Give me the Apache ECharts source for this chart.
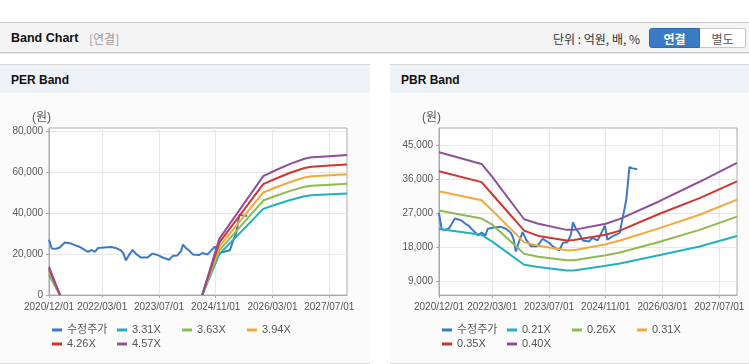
<!DOCTYPE html>
<html><head><meta charset="utf-8">
<script src="https://cdn.jsdelivr.net/npm/echarts@6/dist/echarts.min.js"></script>
<style>
html,body{margin:0;padding:0;}
body{width:749px;height:364px;background:#fff;overflow:hidden;position:relative;font-family:"Liberation Sans","Noto Sans CJK KR",sans-serif;}
.topbar{position:absolute;left:0;top:22px;width:749px;height:29px;background:#f4f4f4;border-top:1px solid #c6c6c6;border-bottom:1px solid #c6c6c6;box-shadow:0 1px 1px rgba(0,0,0,0.08);}
.t1{position:absolute;left:11px;top:30px;font-size:12.5px;font-weight:bold;color:#111;line-height:17px;}
.t2{position:absolute;left:89px;top:31px;font-size:12px;color:#999;line-height:16px;font-family:"Noto Sans CJK KR",sans-serif;}
.unit{position:absolute;left:553px;top:31px;font-size:12px;color:#333;line-height:16px;font-family:"Noto Sans CJK KR",sans-serif;}
.btn{position:absolute;top:28px;height:20px;font-size:12px;line-height:20px;text-align:center;font-family:"Noto Sans CJK KR",sans-serif;box-sizing:border-box;}
.b1{left:649px;width:51px;background:#3b7bc6;color:#fff;font-weight:bold;border:1px solid #2f69ad;border-radius:3px 0 0 3px;}
.b2{left:700px;width:46px;background:#fff;color:#555;border:1px solid #c6c6c6;border-left:none;border-radius:0 3px 3px 0;}
.panel{position:absolute;top:64px;height:298px;background:#fbfbfc;border-top:1px solid #d6d6d6;border-bottom:2px solid #dcdcdc;}
.ph{position:absolute;left:0;top:0;right:0;height:28px;background:#eef1f6;}
.pt{position:absolute;left:11px;top:7px;font-size:12px;font-weight:bold;color:#111;line-height:16px;}
#chart{position:absolute;left:0;top:0;width:749px;height:364px;}
</style></head>
<body>
<div class="topbar"></div>
<div class="t1">Band Chart</div>
<div class="t2">[연결]</div>
<div class="unit">단위 : 억원, 배, %</div>
<div class="btn b1">연결</div>
<div class="btn b2">별도</div>
<div class="panel" style="left:0;width:370px;"><div class="ph"><div class="pt">PER Band</div></div></div>
<div class="panel" style="left:390px;width:359px;"><div class="ph"><div class="pt">PBR Band</div></div></div>
<div id="chart"></div>
<script>
// ---- data ----
const xStart = '2020-12-01';
const xEnd = '2027-12-01';
const xTickDates = ['2020-12-01','2022-03-01','2023-07-01','2024-11-01','2026-03-01','2027-07-01'];
const perTicks = [0, 20000, 40000, 60000, 80000];
const pbrTicks = [9000, 18000, 27000, 36000, 45000];

const priceDates = ['2020-12-01','2020-12-25','2021-02-01','2021-03-01','2021-04-15','2021-06-10','2021-07-15','2021-08-12','2021-09-15','2021-11-01','2021-12-01','2022-01-01','2022-01-25','2022-03-18','2022-05-15','2022-06-28','2022-08-10','2022-09-01','2022-09-21','2022-10-15','2022-11-18','2022-12-15','2023-01-28','2023-03-25','2023-05-06','2023-06-01','2023-07-01','2023-08-01','2023-09-27','2023-11-01','2023-12-07','2024-01-07','2024-01-25','2024-02-18','2024-03-15','2024-04-18','2024-06-10','2024-07-07','2024-08-22','2024-09-18','2024-10-25','2024-11-15','2024-12-28','2025-02-28','2025-03-22','2025-04-25','2025-05-22','2025-06-10','2025-07-28'];
const priceValues = [27000,22700,22600,23200,25600,25100,24200,23700,22600,21100,21900,21100,22900,23200,23400,22900,21800,20200,16900,19200,22000,20200,18300,18300,20200,19800,19200,18300,17200,19200,19300,21400,24600,22900,21800,19800,19500,20500,19800,21400,23700,20000,20900,21800,25300,30600,39200,38900,38600];

const perDates = ['2020-12-01','2021-03-04','2022-06-01','2024-07-07','2024-12-01','2025-12-13','2026-04-01','2026-08-01','2026-12-01','2027-02-01','2027-06-01','2027-12-01'];
const per331 = [9930, 0, null, 0, 19860, 42040, 44190, 46340, 48160, 48660, 48990, 49480];
const per363 = [10890, 0, null, 0, 21780, 46100, 48460, 50820, 52820, 53360, 53720, 54270];
const per394 = [11820, 0, null, 0, 23640, 50040, 52600, 55160, 57330, 57920, 58310, 58900];
const per426 = [12780, 0, null, 0, 25560, 54100, 56870, 59640, 61980, 62620, 63050, 63690];
const per457 = [13710, 0, null, 0, 27420, 58040, 61010, 63980, 66490, 67180, 67640, 68320];

const pbrDates = ['2020-12-01','2021-12-01','2022-03-01','2022-12-01','2023-04-01','2023-12-01','2024-02-01','2024-11-01','2025-03-01','2026-02-01','2027-01-15','2027-12-01'];
const pbr021 = [22800, 21300, 19500, 13400, 12800, 11900, 11900, 13100, 13700, 15900, 18200, 21000];
const pbr026 = [27700, 25600, 24000, 16300, 15500, 14600, 14600, 15900, 16600, 19400, 22600, 26100];
const pbr031 = [32800, 30400, 27700, 19300, 18400, 17200, 17200, 18800, 19800, 23000, 26600, 30600];
const pbr035 = [38100, 35200, 32000, 22400, 21000, 19800, 19900, 21300, 22400, 26800, 31000, 35400];
const pbr040 = [43100, 40000, 36600, 25400, 24200, 22600, 22600, 24200, 25500, 30100, 35300, 40300];

const perNames = ['3.31X','3.63X','3.94X','4.26X','4.57X'];
const pbrNames = ['0.21X','0.26X','0.31X','0.35X','0.40X'];
const bandColors = ['#1fb1c3','#8dbb4c','#f4a83a','#d0362f','#8e509d'];
const priceColor = '#3a79c5';
const priceName = '수정주가';

// ---- build ----
const FONT = '"Liberation Sans","Noto Sans CJK KR",sans-serif';
// date string -> months since xStart (fractional), used as the x value on a linear axis
function toMonth(s){
  const p = s.split('-').map(Number), b = xStart.split('-').map(Number);
  const dim = new Date(p[0], p[1], 0).getDate();
  return (p[0]-b[0])*12 + (p[1]-b[1]) + (p[2]-1)/dim;
}
const tickMonths = xTickDates.map(toMonth);
function fmtTick(v){
  for (let i=0;i<tickMonths.length;i++) if (Math.abs(tickMonths[i]-v)<1e-6) return xTickDates[i].replace(/-/g,'/');
  return '';
}
function zip(d, v){ return d.map((x,i)=>[toMonth(x), v[i]===null ? '-' : v[i]]); }
function fmtNum(v){ return String(v).replace(/\B(?=(\d{3})+(?!\d))/g, ','); }

function xAxis(g){
  return {type:'value', gridIndex:g, min:toMonth(xStart), max:toMonth(xEnd),
    axisLine:{show:true, onZero:false, lineStyle:{color:'#aaa'}},
    axisTick:{show:true, customValues:tickMonths, length:3, lineStyle:{color:'#aaa'}},
    axisLabel:{customValues:tickMonths, formatter:fmtTick, color:'#555', fontSize:10, fontFamily:FONT, margin:7,
      hideOverlap:false, showMinLabel:true, showMaxLabel:true},
    splitLine:{show:true, lineStyle:{color:'#e7e7e7'}}};
}
function yAxis(g, min, max, ticks){
  return {type:'value', gridIndex:g, min:min, max:max,
    axisLine:{show:true, onZero:false, lineStyle:{color:'#aaa'}},
    axisTick:{show:true, customValues:ticks, length:3, lineStyle:{color:'#aaa'}},
    axisLabel:{customValues:ticks, formatter:fmtNum, color:'#555', fontSize:10, fontFamily:FONT, margin:6,
      hideOverlap:false, showMinLabel:true, showMaxLabel:true},
    splitLine:{show:true, lineStyle:{color:'#e7e7e7'}}};
}
function line(name, data, color, g){
  return {type:'line', name:name, xAxisIndex:g, yAxisIndex:g, data:data, symbol:'none',
    lineStyle:{width:2, color:color}, itemStyle:{color:color}, animation:false, silent:true};
}
function legend(left, names){
  return {left:left, top:323, width:270, icon:'rect', itemWidth:10, itemHeight:3, itemGap:0, padding:0,
    data:names,
    textStyle:{width:50, fontSize:11, lineHeight:14, color:'#555', fontFamily:FONT}};
}

const series = [];
series.push(line(priceName, zip(priceDates, priceValues), priceColor, 0));
[per331, per363, per394, per426, per457].forEach((v,i)=>series.push(line(perNames[i], zip(perDates, v), bandColors[i], 0)));
series.push(line(priceName, zip(priceDates, priceValues), priceColor, 1));
[pbr021, pbr026, pbr031, pbr035, pbr040].forEach((v,i)=>series.push(line(pbrNames[i], zip(pbrDates, v), bandColors[i], 1)));

const chart = echarts.init(document.getElementById('chart'), null, {renderer:'canvas'});
chart.setOption({
  backgroundColor:'transparent',
  animation:false,
  grid:[
    {left:49, top:128, width:298, height:167, show:true, borderColor:'#aaa', borderWidth:1, backgroundColor:'#fff', containLabel:false},
    {left:439, top:128, width:298, height:167, show:true, borderColor:'#aaa', borderWidth:1, backgroundColor:'#fff', containLabel:false}
  ],
  xAxis:[xAxis(0), xAxis(1)],
  yAxis:[yAxis(0, 0, 81500, perTicks), yAxis(1, 5400, 49500, pbrTicks)],
  legend:[legend(52, [priceName].concat(perNames)), legend(442, [priceName].concat(pbrNames))],
  graphic:[
    {type:'text', left:32, top:112, style:{text:'(원)', fontSize:12, fill:'#555', fontFamily:FONT}},
    {type:'text', left:422, top:112, style:{text:'(원)', fontSize:12, fill:'#555', fontFamily:FONT}}
  ],
  series:series
});
</script>
</body></html>
